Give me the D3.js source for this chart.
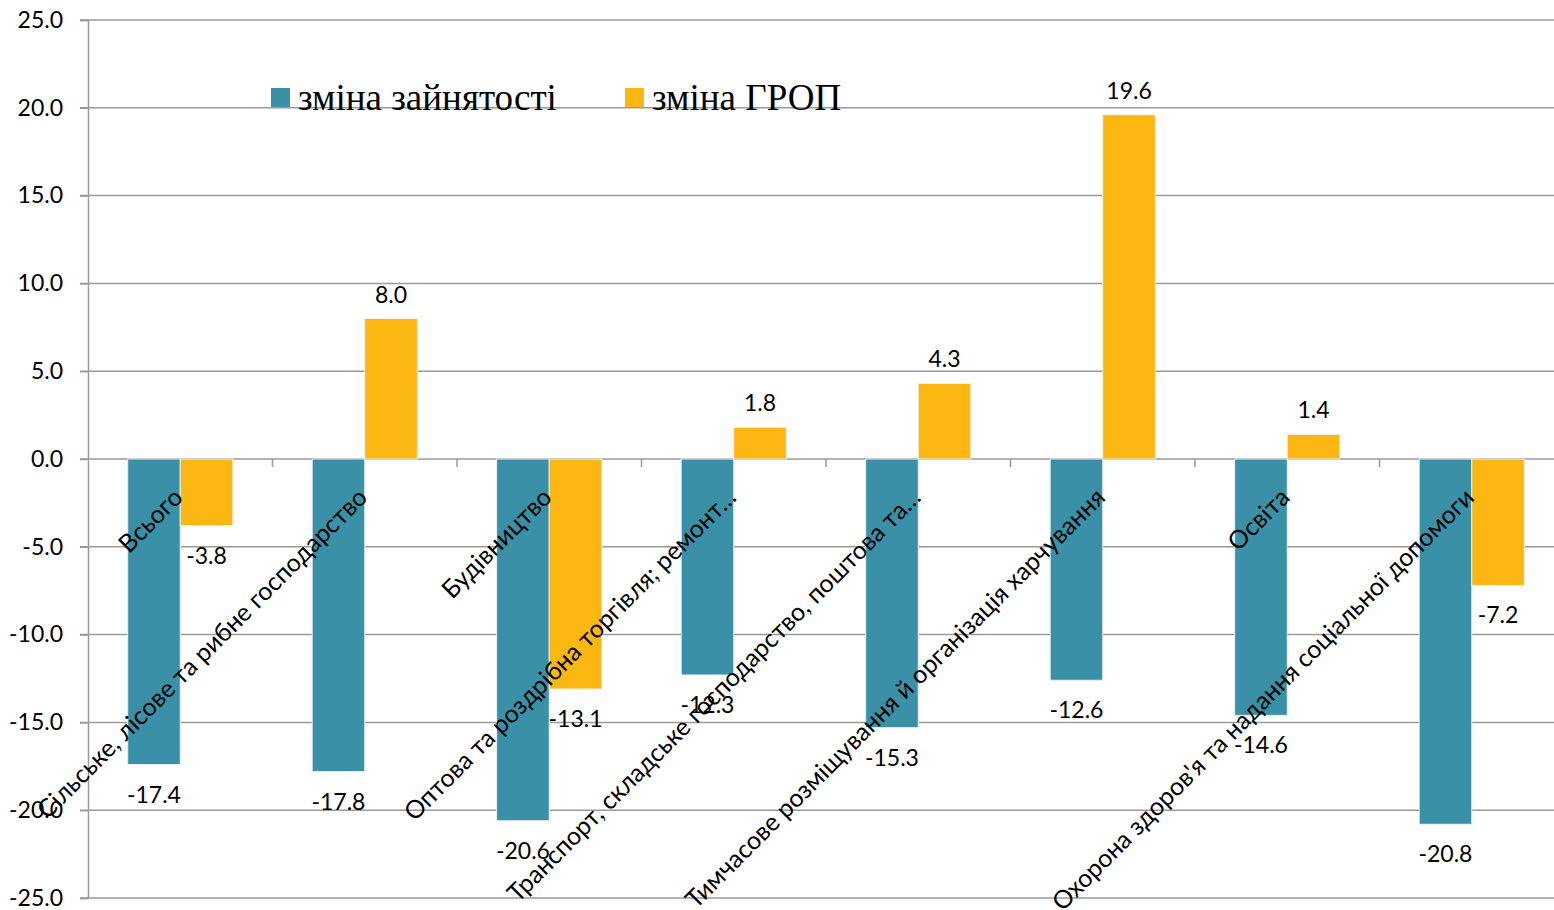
<!DOCTYPE html>
<html>
<head>
<meta charset="utf-8">
<script src="https://cdnjs.cloudflare.com/ajax/libs/d3/7.8.5/d3.min.js"></script>
<style>
  body { margin: 0; background: #fff; }
  svg { display: block; }
</style>
</head>
<body>
<svg id="chart" width="1554" height="910"></svg>
<script>
var categories = [
  'Всього',
  'Сільське, лісове та рибне господарство',
  'Будівництво',
  'Оптова та роздрібна торгівля; ремонт…',
  'Транспорт, складське господарство, поштова та…',
  'Тимчасове розміщування й організація харчування',
  'Освіта',
  "Охорона здоров'я та надання соціальної допомоги"
];
var employment = [-17.4, -17.8, -20.6, -12.3, -15.3, -12.6, -14.6, -20.8];
var grp = [-3.8, 8.0, -13.1, 1.8, 4.3, 19.6, 1.4, -7.2];
var seriesNames = ['зміна зайнятості', 'зміна ГРОП'];
var seriesColors = ['#3a91a7', '#fdb713'];
var yTicks = [25, 20, 15, 10, 5, 0, -5, -10, -15, -20, -25];

var svg = d3.select('#chart');
var labelFont = 'Lato, "Open Sans", sans-serif';

var x = d3.scaleBand()
  .domain(categories)
  .range([88, 1564])
  .paddingInner(0.43)
  .paddingOuter(0.215);

var xs = d3.scaleBand()
  .domain([0, 1])
  .range([0, x.bandwidth()]);

var y = d3.scaleLinear()
  .domain([-25, 25])
  .range([898, 20]);

// gridlines
svg.append('g')
  .selectAll('line')
  .data(yTicks)
  .enter()
  .append('line')
    .attr('x1', 80)
    .attr('x2', 1554)
    .attr('y1', function(d) { return y(d); })
    .attr('y2', function(d) { return y(d); })
    .attr('stroke', '#9a9a9a')
    .attr('stroke-width', 1.5);

// y axis
var axisY = d3.axisLeft(y)
  .tickValues(yTicks)
  .tickSize(8)
  .tickFormat(d3.format('.1f'));

var gy = svg.append('g')
  .attr('transform', 'translate(88,0)')
  .call(axisY);
gy.select('.domain').attr('stroke', '#9a9a9a').attr('stroke-width', 1.5);
gy.selectAll('.tick line').attr('stroke', '#9a9a9a').attr('stroke-width', 1.5);
gy.selectAll('.tick text')
  .attr('x', -25)
  .attr('font-family', labelFont)
  .attr('font-size', 23)
  .attr('fill', '#000')
  .text(function(d) { return d3.format('.1f')(d).replace('−', '-'); });

// category ticks on zero line
var step = x.step();
svg.append('g')
  .selectAll('line')
  .data(d3.range(1, categories.length))
  .enter()
  .append('line')
    .attr('x1', function(i) { return 88 + i * step; })
    .attr('x2', function(i) { return 88 + i * step; })
    .attr('y1', y(0))
    .attr('y2', y(0) + 8)
    .attr('stroke', '#9a9a9a')
    .attr('stroke-width', 1.5);

// bars
var rows = categories.map(function(c, i) {
  return { cat: c, vals: [employment[i], grp[i]] };
});

var groups = svg.append('g')
  .selectAll('g')
  .data(rows)
  .enter()
  .append('g')
    .attr('transform', function(d) { return 'translate(' + x(d.cat) + ',0)'; });

groups.selectAll('rect')
  .data(function(d) { return d.vals; })
  .enter()
  .append('rect')
    .attr('x', function(d, i) { return xs(i); })
    .attr('width', xs.bandwidth())
    .attr('y', function(d) { return y(Math.max(0, d)); })
    .attr('height', function(d) { return Math.abs(y(d) - y(0)); })
    .attr('fill', function(d, i) { return seriesColors[i]; })
    .attr('stroke', '#e8f0f2')
    .attr('stroke-width', 1);

// category labels
svg.append('g')
  .selectAll('text')
  .data(categories)
  .enter()
  .append('text')
    .attr('transform', function(d) {
      return 'translate(' + (x(d) + x.bandwidth() / 2 + 4) + ',' + (y(0) + 40) + ') rotate(-45)';
    })
    .attr('text-anchor', 'end')
    .attr('font-family', labelFont)
    .attr('font-size', 25)
    .attr('fill', '#000')
    .text(function(d) { return d; });

// data labels
groups.selectAll('text')
  .data(function(d) { return d.vals; })
  .enter()
  .append('text')
    .attr('x', function(d, i) { return xs(i) + xs.bandwidth() / 2; })
    .attr('y', function(d) { return d >= 0 ? y(d) - 16 : y(d) + 38; })
    .attr('text-anchor', 'middle')
    .attr('font-family', labelFont)
    .attr('font-size', 23)
    .attr('fill', '#000')
    .text(function(d) { return d.toFixed(1); });

// legend
var legendX = [271, 625];
var legend = svg.append('g')
  .selectAll('g')
  .data(seriesNames)
  .enter()
  .append('g')
    .attr('transform', function(d, i) { return 'translate(' + legendX[i] + ',88)'; });

legend.append('rect')
  .attr('width', 19)
  .attr('height', 19)
  .attr('fill', function(d, i) { return seriesColors[i]; });

legend.append('text')
  .attr('x', 27)
  .attr('y', 22)
  .attr('font-family', '"Liberation Serif", "Times New Roman", serif')
  .attr('font-size', 37)
  .attr('fill', '#000')
  .text(function(d) { return d; });
</script>
</body>
</html>
